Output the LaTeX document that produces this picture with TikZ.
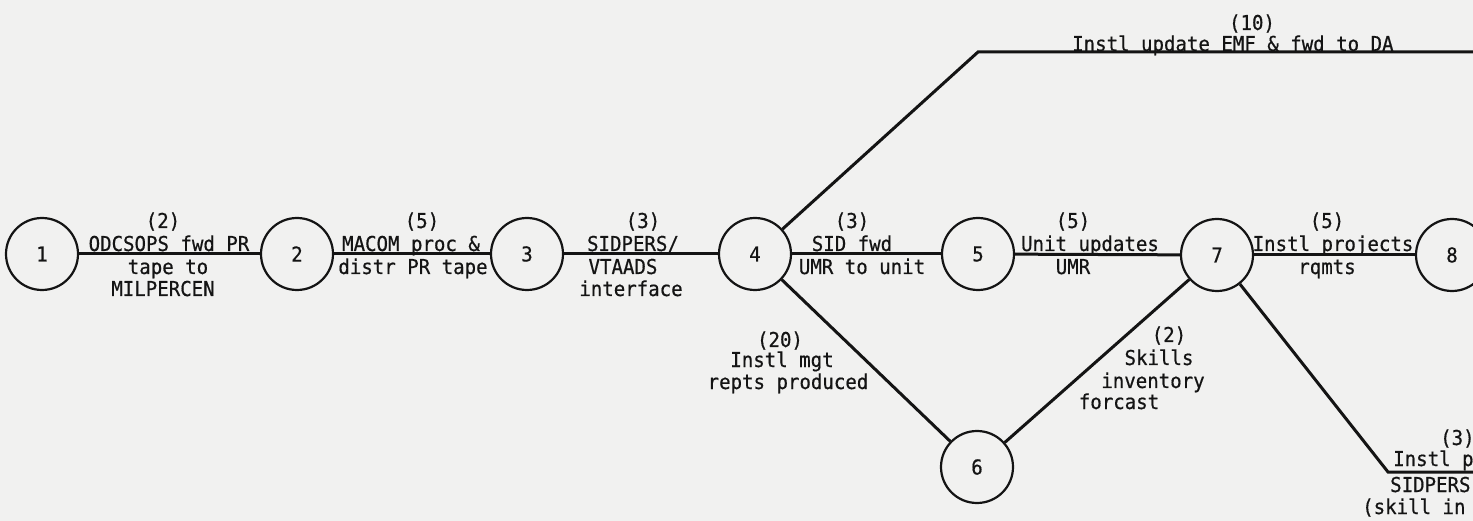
\documentclass[tikz,border=0pt]{standalone}
\usepackage{fontspec}
\newfontfamily\lblfamily[FakeStretch=0.93,FakeBold=0.6]{DejaVu Sans Mono}
\newcommand\lblfont{\lblfamily\fontsize{20.5}{22}\selectfont}
\definecolor{paper}{RGB}{241,241,240}
\definecolor{ink}{RGB}{20,20,20}
\begin{document}
\begin{tikzpicture}[x=1pt,y=-1pt,
  ev/.style={circle,draw=ink,line width=2.2pt,minimum size=72pt,inner sep=0pt,font=\lblfont,text=ink},
  act/.style={draw=ink,line width=3pt},
  lbl/.style={font=\lblfont,text=ink,inner sep=0pt,anchor=base},
  lblw/.style={font=\lblfont,text=ink,inner sep=0pt,anchor=base west}]
\useasboundingbox (0,0) rectangle (1473,521);
\clip (0,0) rectangle (1473,521);
\fill[paper] (0,0) rectangle (1473,521);

% events
\node[ev] (n1) at (42,254) {1};
\node[ev] (n2) at (297,254) {2};
\node[ev] (n3) at (527,254) {3};
\node[ev] (n4) at (755,254) {4};
\node[ev] (n5) at (978,254) {5};
\node[ev] (n6) at (977,467) {6};
\node[ev] (n7) at (1217,255) {7};
\node[ev] (n8) at (1452,255) {8};
\coordinate (c1) at (978,52);
\coordinate (e1) at (1473,52);
\coordinate (c2) at (1388,472);
\coordinate (e2) at (1473,472);

% activities
\draw[act] (n1) -- (n2);
\draw[act] (n2) -- (n3);
\draw[act] (n3) -- (n4);
\draw[act] (n4) -- (n5);
\draw[act] (n5) -- (n7);
\draw[act] (n7) -- (n8);
\draw[act] (n4) -- (n6);
\draw[act] (n6) -- (n7);
\draw[act] (n4) -- (c1) -- (e1);
\draw[act] (n7) -- (c2) -- (e2);

% labels 1-2
\node[lbl] (a1) at (163,228) {(2)};
\node[lbl] (a2) at (169,251) {ODCSOPS fwd PR};
\node[lbl] (a3) at (168,274) {tape to};
\node[lbl] (a4) at (163,296) {MILPERCEN};
% labels 2-3
\node[lbl] (b1) at (422,228) {(5)};
\node[lbl] (b2) at (411,251) {MACOM proc \&};
\node[lbl] (b3) at (413,274) {distr PR tape};
% labels 3-4
\node[lbl] (d1) at (643,228) {(3)};
\node[lbl] (d2) at (633,251) {SIDPERS/};
\node[lbl] (d3) at (623,274) {VTAADS};
\node[lbl] (d4) at (631,296) {interface};
% labels 4-5
\node[lbl] (f1) at (852,228) {(3)};
\node[lbl] (f2) at (852,251) {SID fwd};
\node[lbl] (f3) at (862,274) {UMR to unit};
% labels 5-7
\node[lbl] (g1) at (1073,228) {(5)};
\node[lbl] (g2) at (1090,251) {Unit updates};
\node[lbl] (g3) at (1073,274) {UMR};
% labels 7-8
\node[lbl] (h1) at (1327,228) {(5)};
\node[lbl] (h2) at (1333,251) {Instl projects};
\node[lbl] (h3) at (1327,274) {rqmts};
% labels 4-6
\node[lbl] (k1) at (780,347) {(20)};
\node[lbl] (k2) at (782,367) {Instl mgt};
\node[lbl] (k3) at (788,389) {repts produced};
% labels 6-7
\node[lbl] (m1) at (1169,342) {(2)};
\node[lbl] (m2) at (1159,365) {Skills};
\node[lbl] (m3) at (1153,388) {inventory};
\node[lbl] (m4) at (1119,409) {forcast};
% top labels
\node[lbl] (t1) at (1252,30) {(10)};
\node[lblw] (t2) at (1072,51) {Instl update EMF \& fwd to DA};
% bottom-right labels
\node[lblw] (r1) at (1440,445) {(3)};
\node[lblw] (r2) at (1393,466) {Instl p};
\node[lblw] (r3) at (1390,492) {SIDPERS};
\node[lblw] (r4) at (1362,514) {(skill in};
\end{tikzpicture}
\end{document}
